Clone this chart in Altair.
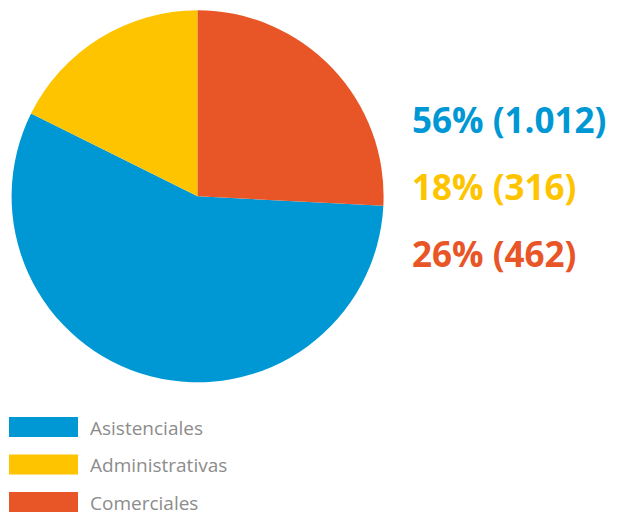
import altair as alt
import pandas as pd

categories = ["Asistenciales", "Administrativas", "Comerciales"]
counts = [1012, 316, 462]
value_labels = ["56% (1.012)", "18% (316)", "26% (462)"]
slice_order = [2, 3, 1]
colors = ["#0098D4", "#FEC400", "#E85628"]

df = pd.DataFrame({
    "cat": categories,
    "count": counts,
    "label": value_labels,
    "order": slice_order,
})

color = alt.Color("cat:N", scale=alt.Scale(domain=categories, range=colors), legend=None)

pie = alt.Chart(df).mark_arc(radius=186).encode(
    theta=alt.Theta("count:Q", stack=True),
    color=color,
    order=alt.Order("order:Q"),
    x=alt.value(189.6),
    y=alt.value(188.3),
)

pct = alt.Chart(df).mark_text(
    align="left", baseline="alphabetic", font="Open Sans", fontSize=35, fontWeight="bold"
).encode(
    x=alt.value(404),
    y=alt.Y("cat:N", sort=categories, scale=alt.Scale(range=[125, 259], padding=0), axis=None),
    text="label:N",
    color=color,
)

swatch = alt.Chart(df).mark_point(
    shape="M-1,-0.29H1V0.29H-1Z", size=4761, filled=True, opacity=1, strokeWidth=0
).encode(
    x=alt.value(35.5),
    y=alt.Y("cat:N", sort=categories, scale=alt.Scale(range=[419, 494], padding=0), axis=None),
    color=color,
)

legend_text = alt.Chart(df).mark_text(
    align="left", baseline="alphabetic", dy=7.6, font="Open Sans", fontSize=19, color="#8C8C8C"
).encode(
    x=alt.value(82),
    y=alt.Y("cat:N", sort=categories, scale=alt.Scale(range=[419, 494], padding=0), axis=None),
    text="cat:N",
)

chart = alt.layer(pie, pct, swatch, legend_text).resolve_scale(
    y="independent"
).properties(
    width=605, height=504, autosize="none", padding=0
).configure_view(stroke=None)

chart.save("out.html", embed_options={"renderer": "svg", "actions": False})
